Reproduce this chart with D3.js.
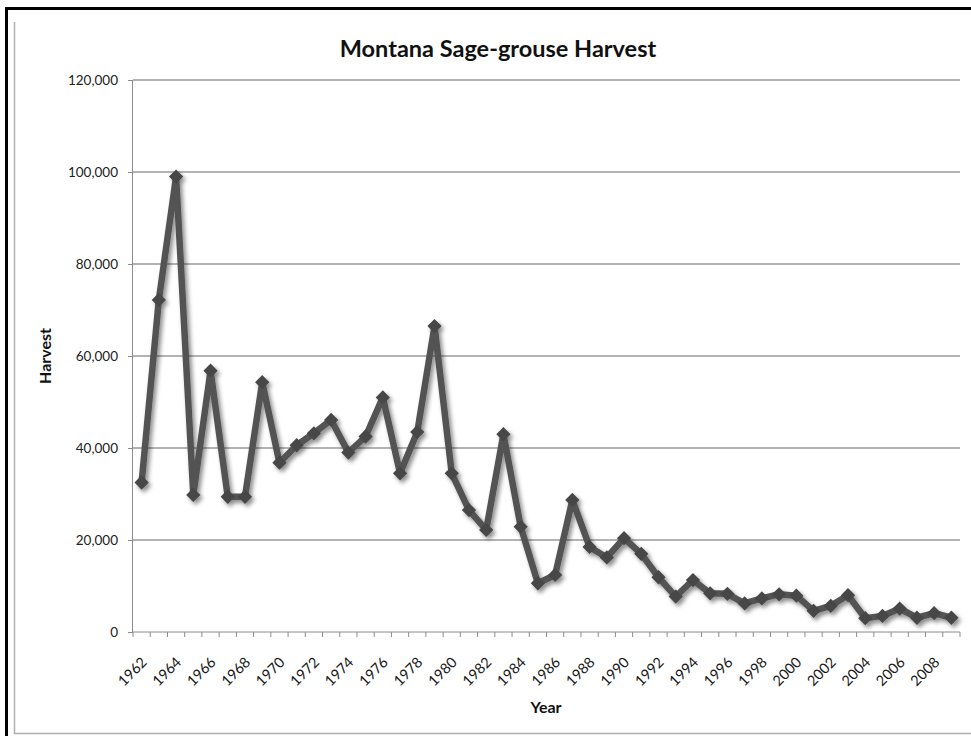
<!DOCTYPE html>
<meta charset="utf-8">
<style>
    body { margin: 0; background: #fff; }
    svg { display: block; }
    .axis path, .axis line { stroke: #8c8c8c; }
    .axis text { font-family: Lato, "Open Sans", sans-serif; font-size: 13.5px; fill: #222; }
    .axis text.yr { font-size: 14.5px; fill: #1a1a1a; }
    .grid line { stroke: #9a9a9a; stroke-width: 1.3px; }
    .title { font-family: Lato, "Open Sans", sans-serif; font-weight: bold; font-size: 23.5px; fill: #111; }
    .label { font-family: Lato, "Open Sans", sans-serif; font-weight: bold; font-size: 16px; fill: #111; }
</style>
<svg width="971" height="736"></svg>
<script src="https://d3js.org/d3.v7.min.js"></script>
<script>
    var years = [1962, 1963, 1964, 1965, 1966, 1967, 1968, 1969, 1970, 1971,
        1972, 1973, 1974, 1975, 1976, 1977, 1978, 1979, 1980, 1981,
        1982, 1983, 1984, 1985, 1986, 1987, 1988, 1989, 1990, 1991,
        1992, 1993, 1994, 1995, 1996, 1997, 1998, 1999, 2000, 2001,
        2002, 2003, 2004, 2005, 2006, 2007, 2008, 2009];

    var harvest = [32500, 72200, 99000, 29800, 56800, 29400, 29400, 54300, 36800, 40600,
        43200, 46100, 39000, 42500, 51000, 34500, 43500, 66500, 34500, 26500,
        22200, 43000, 22900, 10600, 12400, 28700, 18500, 16200, 20400, 17000,
        11900, 7700, 11300, 8400, 8300, 6200, 7300, 8200, 7900, 4600,
        5700, 8000, 3000, 3500, 5100, 3100, 4100, 3100];

    var yTicks = [0, 20000, 40000, 60000, 80000, 100000, 120000];
    var xLabels = [1962, 1964, 1966, 1968, 1970, 1972, 1974, 1976, 1978, 1980,
        1982, 1984, 1986, 1988, 1990, 1992, 1994, 1996, 1998, 2000,
        2002, 2004, 2006, 2008];

    var svg = d3.select("svg");
    var plotL = 133, plotR = 960, plotT = 80, plotB = 632;

    // frame like the pasted Excel chart
    svg.append("rect")
        .attr("x", 6.5).attr("y", 8.5)
        .attr("width", 980).attr("height", 740)
        .attr("fill", "none").attr("stroke", "#000").attr("stroke-width", 3);
    svg.append("path")
        .attr("d", "M14.5,22 V733.5 H971")
        .attr("fill", "none").attr("stroke", "#b0b0b0").attr("stroke-width", 1.5);

    var defs = svg.append("defs");
    defs.append("filter").attr("id", "shadow")
        .attr("x", "-5%").attr("y", "-5%").attr("width", "110%").attr("height", "110%")
        .append("feDropShadow")
        .attr("dx", 2.5).attr("dy", 3).attr("stdDeviation", 2)
        .attr("flood-color", "#000").attr("flood-opacity", 0.45);

    var x = d3.scaleBand().domain(years).range([plotL, plotR]).padding(0);
    var y = d3.scaleLinear().domain([0, 120000]).range([plotB, plotT]);

    // gridlines
    svg.append("g").attr("class", "grid")
        .selectAll("line")
        .data(yTicks.slice(1))
        .enter().append("line")
        .attr("x1", plotL).attr("x2", plotR)
        .attr("y1", function(d) { return y(d); })
        .attr("y2", function(d) { return y(d); });

    // y axis
    var yAxis = svg.append("g").attr("class", "axis")
        .attr("transform", "translate(" + plotL + ",0)")
        .call(d3.axisLeft(y).tickValues(yTicks).tickSize(5).tickPadding(10)
            .tickFormat(d3.format(",")));
    yAxis.select(".domain").attr("d", "M-0.5," + plotB + "V" + plotT);

    // x axis: ticks between categories (Excel style)
    var xAxis = svg.append("g").attr("class", "axis")
        .attr("transform", "translate(0," + plotB + ")");
    xAxis.append("line")
        .attr("x1", plotL).attr("x2", plotR).attr("y1", 0).attr("y2", 0);
    xAxis.selectAll(".tk")
        .data(years.concat(["end"]))
        .enter().append("line")
        .attr("class", "tk")
        .attr("x1", function(d, i) { return i < years.length ? x(d) : plotR; })
        .attr("x2", function(d, i) { return i < years.length ? x(d) : plotR; })
        .attr("y1", 0).attr("y2", 5);
    xAxis.selectAll(".yr")
        .data(xLabels)
        .enter().append("text")
        .attr("class", "yr")
        .attr("text-anchor", "end")
        .attr("transform", function(d) {
            return "translate(" + (x(d) + x.bandwidth() / 2 - 1) + ",24) rotate(-45)";
        })
        .attr("dy", "0.7em")
        .text(function(d) { return d; });

    // series
    var pts = years.map(function(d, i) { return [d, harvest[i]]; });
    var g = svg.append("g").attr("filter", "url(#shadow)");
    g.append("path")
        .datum(pts)
        .attr("fill", "none")
        .attr("stroke", "#535353")
        .attr("stroke-width", 6.5)
        .attr("stroke-linejoin", "round")
        .attr("d", d3.line()
            .x(function(d) { return x(d[0]) + x.bandwidth() / 2; })
            .y(function(d) { return y(d[1]); }));
    g.selectAll(".mk")
        .data(pts)
        .enter().append("path")
        .attr("class", "mk")
        .attr("fill", "#474747")
        .attr("d", d3.symbol().type(d3.symbolDiamond2).size(130))
        .attr("transform", function(d) {
            return "translate(" + (x(d[0]) + x.bandwidth() / 2) + "," + y(d[1]) + ")";
        });

    // titles
    svg.append("text").attr("class", "title")
        .attr("x", 498).attr("y", 57)
        .attr("text-anchor", "middle")
        .text("Montana Sage-grouse Harvest");
    svg.append("text").attr("class", "label")
        .attr("transform", "translate(51,356) rotate(-90)")
        .attr("text-anchor", "middle")
        .text("Harvest");
    svg.append("text").attr("class", "label")
        .attr("x", 546).attr("y", 713)
        .attr("text-anchor", "middle")
        .text("Year");
</script>
